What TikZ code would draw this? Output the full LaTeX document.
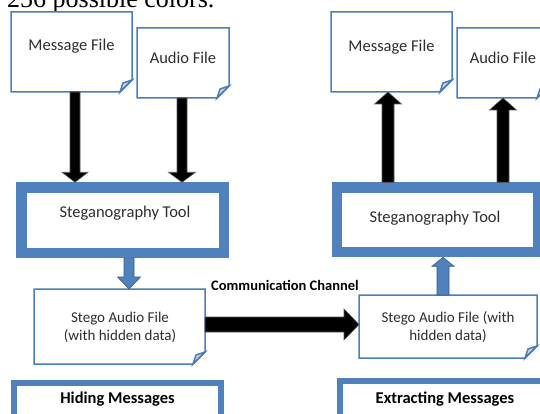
\documentclass[tikz,border=0pt]{standalone}
\usepackage{fontspec}
\setmainfont{Carlito}
\newfontfamily\serifface{Liberation Serif}
\usetikzlibrary{calc}
\definecolor{boxblue}{HTML}{4F81BD}
\definecolor{lineblue}{HTML}{4A7EBB}
\definecolor{darkblue}{HTML}{385D8A}
\definecolor{flapgray}{HTML}{C9D3E2}
\definecolor{txtcol}{HTML}{2E2E2E}

\newcommand\drawdoc[1]{%
  \draw[docline] (#1.north west) -- (#1.north east) -- ([yshift=12pt]#1.south east) -- ([xshift=-12pt]#1.south east) -- (#1.south west) -- cycle;
  \draw[docline, fill=flapgray] ([xshift=-12pt]#1.south east) .. controls ([xshift=-10pt,yshift=6pt]#1.south east) .. ([xshift=-9pt,yshift=9pt]#1.south east) .. controls ([xshift=-6pt,yshift=10pt]#1.south east) .. ([yshift=12pt]#1.south east) -- cycle;
}
% vertical block arrow: from, to, shaft half width, head half width, head length, style
\newcommand\varrow[6]{%
  \path[#6] let \p1=(#1), \p2=(#2), \n1={-sign(\y2-\y1)*#5} in
    (\x1-#3,\y1) -- (\x1-#3,\y2+\n1) -- (\x1-#4,\y2+\n1) -- (\x1,\y2) -- (\x1+#4,\y2+\n1) -- (\x1+#3,\y2+\n1) -- (\x1+#3,\y1) -- cycle;}
% horizontal block arrow
\newcommand\harrow[6]{%
  \path[#6] let \p1=(#1), \p2=(#2), \n1={-sign(\x2-\x1)*#5} in
    (\x1,\y1-#3) -- (\x2+\n1,\y1-#3) -- (\x2+\n1,\y1-#4) -- (\x2,\y1) -- (\x2+\n1,\y1+#4) -- (\x2+\n1,\y1+#3) -- (\x1,\y1+#3) -- cycle;}

\tikzset{
  docbox/.style={rectangle, draw=none, fill=white, inner sep=0pt, outer sep=0pt},
  docline/.style={draw=lineblue, line width=1.5pt, line join=miter},
  toolbox/.style={rectangle, draw=boxblue, line width=10.5pt, fill=white, inner sep=0pt},
  labbox/.style={rectangle, draw=boxblue, line width=6pt, fill=white, inner sep=0pt},
  ftext/.style={inner sep=0pt, text=txtcol, font=\fontsize{16.5}{19}\selectfont},
  stext/.style={inner sep=0pt, text=txtcol, align=center, font=\fontsize{15}{18}\selectfont},
  ttext/.style={inner sep=0pt, text=txtcol, font=\fontsize{16.5}{19}\selectfont},
  ltext/.style={inner sep=0pt, text=black, font=\bfseries\fontsize{16.5}{19}\selectfont},
  ctext/.style={inner sep=0pt, text=black, font=\bfseries\fontsize{14.5}{17}\selectfont},
  blkarrow/.style={fill=black, draw=black!65, line width=0.6pt},
  bluearrow/.style={fill=boxblue, draw=darkblue, line width=0.6pt},
}

\begin{document}
\begin{tikzpicture}[x=1pt,y=-1pt]
\useasboundingbox (0,0) rectangle (540,414);
\clip (0,0) rectangle (540,414);
\fill[white] (0,0) rectangle (540,414);

\node[anchor=base west, inner sep=0pt, font=\serifface\fontsize{26}{30}\selectfont] (caption) at (7,8) {256 possible colors.};

% documents
\node[docbox, minimum width=121pt, minimum height=80pt] (msgL) at (71.5,52) {};
\node[docbox, minimum width=92pt, minimum height=70pt] (audL) at (183,63) {};
\node[docbox, minimum width=121pt, minimum height=80pt] (msgR) at (391.5,52) {};
\node[docbox, minimum width=92pt, minimum height=70pt] (audR) at (503,63) {};
\node[docbox, minimum width=171pt, minimum height=75pt] (stegoL) at (119.5,326.5) {};
\node[docbox, minimum width=178pt, minimum height=63pt] (stegoR) at (448,326.5) {};
\drawdoc{msgL}
\drawdoc{audL}
\drawdoc{msgR}
\drawdoc{audR}
\drawdoc{stegoL}
\drawdoc{stegoR}

\node[ftext] (msgLt) at (71.5,46) {Message File};
\node[ftext] (audLt) at (183,58) {Audio File};
\node[ftext] (msgRt) at (391.5,47) {Message File};
\node[ftext] (audRt) at (503,58) {Audio File};
\node[stext] (stegoLt) at (120,327) {Stego Audio File\\(with hidden data)};
\node[stext] (stegoRt) at (448,327.5) {Stego Audio File (with\\hidden data)};

% tool boxes
\node[toolbox, minimum width=202.5pt, minimum height=65.5pt] (toolL) at (122.75,220.25) {};
\node[ttext] (toolLt) at (125,213) {Steganography Tool};
\node[toolbox, minimum width=201.5pt, minimum height=64.5pt] (toolR) at (437.75,219.75) {};
\node[ttext] (toolRt) at (435,218) {Steganography Tool};

% label boxes
\node[labbox, minimum width=207pt, minimum height=44pt] (hide) at (117.5,405) {};
\node[ltext] (hidet) at (117.5,399) {Hiding Messages};
\node[labbox, minimum width=210pt, minimum height=44pt] (extr) at (445,403) {};
\node[ltext] (extrt) at (445,399) {Extracting Messages};

% arrows
\varrow{[xshift=3.5pt]msgL.south}{[xshift=3.5pt]msgL.south |- toolL.north}{5pt}{13pt}{10pt}{blkarrow}
\varrow{[xshift=-1pt]audL.south}{[xshift=-1pt]audL.south |- toolL.north}{5pt}{13.5pt}{10pt}{blkarrow}
\varrow{[xshift=-3.5pt]msgR.south |- toolR.north}{[xshift=-3.5pt]msgR.south}{6pt}{13.5pt}{12pt}{blkarrow}
\varrow{audR.south |- toolR.north}{audR.south}{6pt}{13.5pt}{12pt}{blkarrow}
\varrow{[xshift=6.25pt]toolL.south}{[xshift=6.25pt]toolL.south |- stegoL.north}{5pt}{11.5pt}{12pt}{bluearrow}
\varrow{[xshift=-5pt]stegoR.north}{[xshift=-5pt]stegoR.north |- toolR.south}{6pt}{11pt}{9pt}{bluearrow}
\harrow{[yshift=2pt]stegoL.east}{[yshift=2pt]stegoL.east -| stegoR.west}{7.5pt}{15.5pt}{15pt}{blkarrow}

\node[ctext] (chan) at (285,285) {Communication Channel};
\end{tikzpicture}
\end{document}
